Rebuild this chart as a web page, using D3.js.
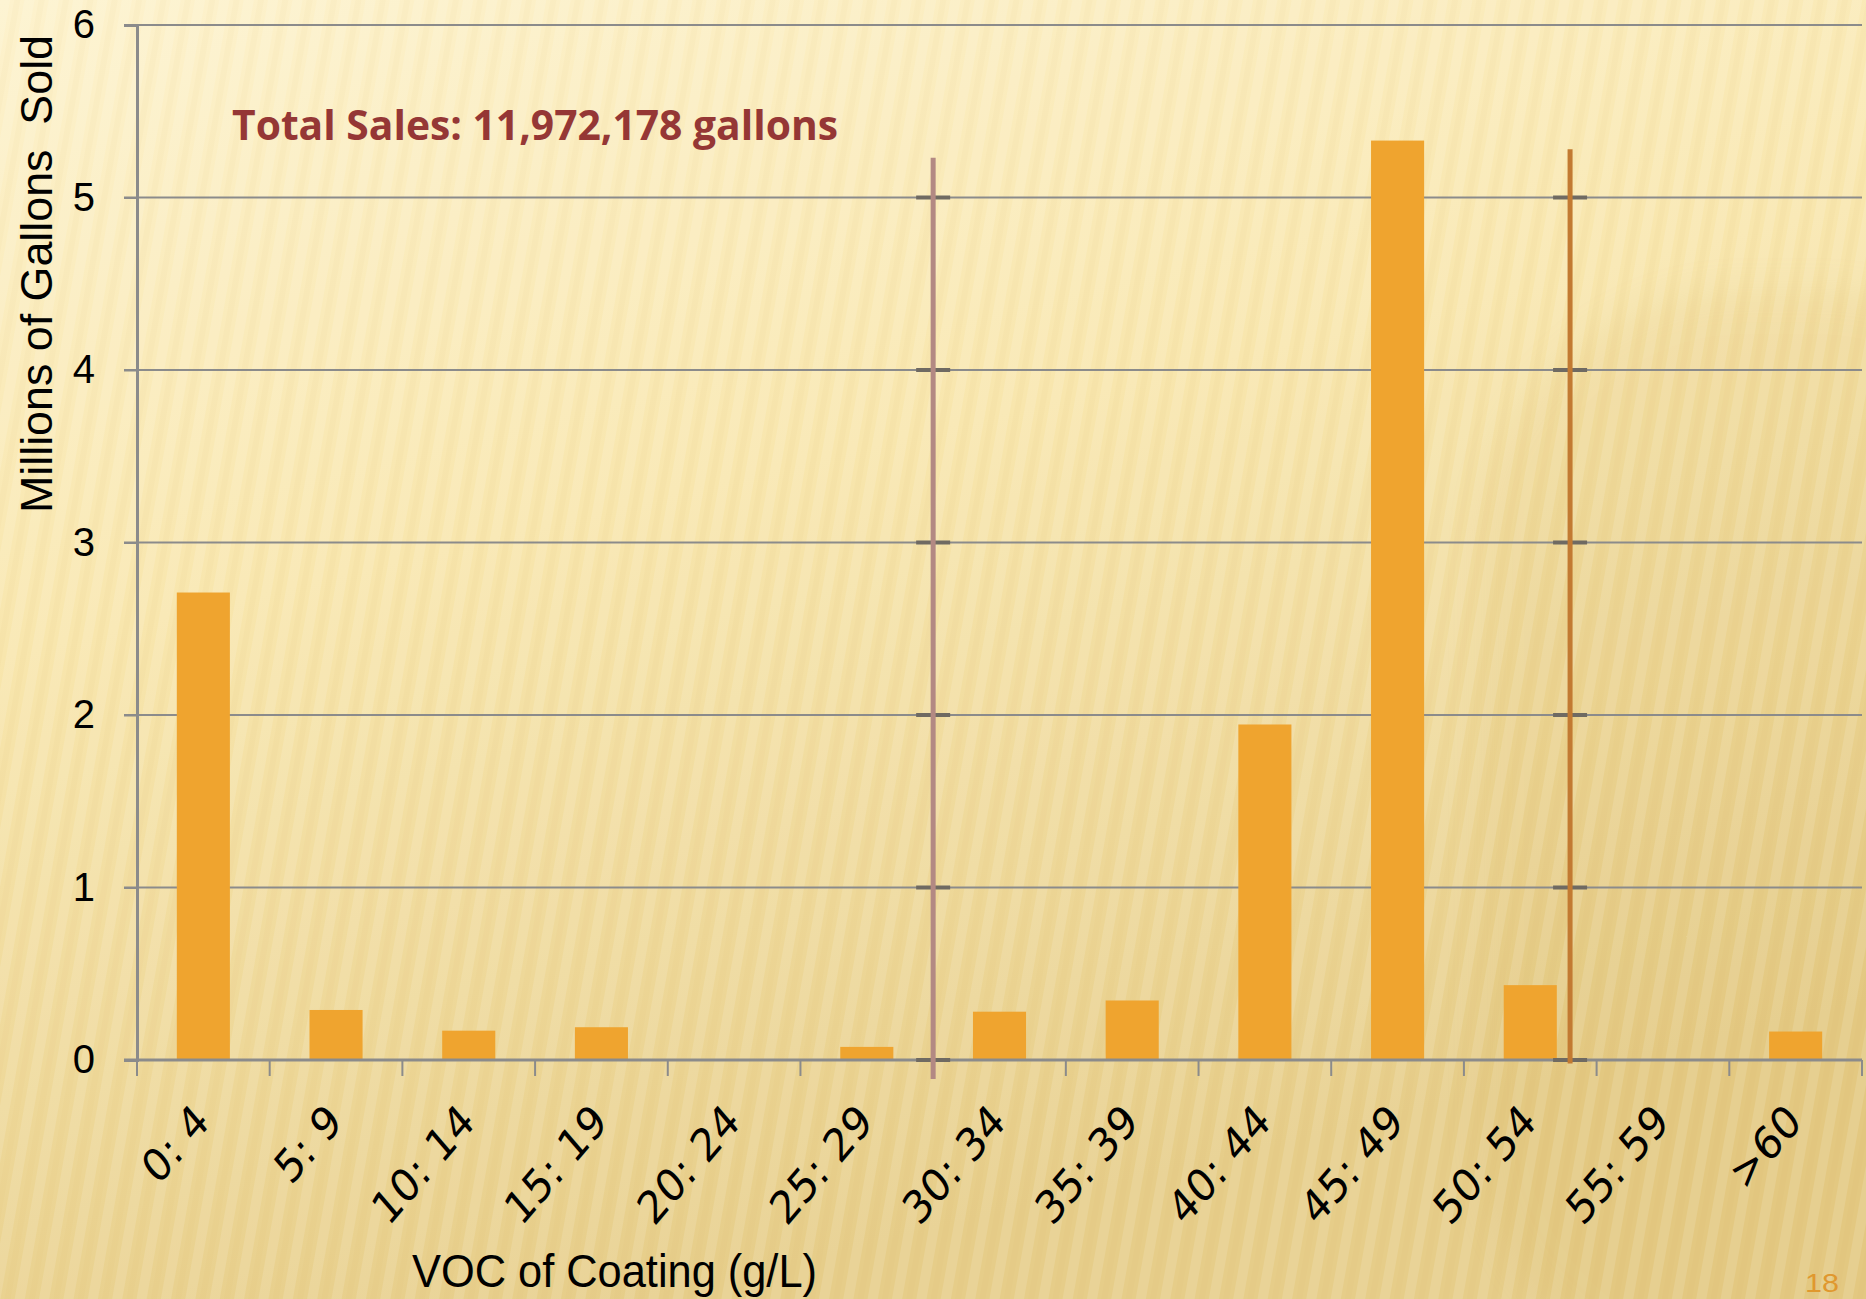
<!DOCTYPE html>
<meta charset="utf-8">
<script src="https://d3js.org/d3.v7.min.js"></script>
<style>
  body { margin: 0; }
  svg { display: block; }
</style>
<body>
<svg width="1866" height="1299"></svg>
<script>
    // chart data
    var categories = ["0: 4", "5: 9", "10: 14", "15: 19", "20: 24", "25: 29", "30: 34",
                      "35: 39", "40: 44", "45: 49", "50: 54", "55: 59", ">60"];
    var sales      = [2.71, 0.29, 0.17, 0.19, 0, 0.076, 0.28, 0.345, 1.945, 5.33, 0.434, 0, 0.165];
    var yTicks     = [0, 1, 2, 3, 4, 5, 6];
    // limit markers, position in category steps, top/bottom in millions of gallons
    var limitPos    = [6, 10.8];
    var limitTop    = [5.23, 5.28];
    var limitBottom = [-0.11, -0.02];
    var limitColor  = ["#b38983", "#c27a32"];

    var W = 1866, H = 1299;
    var mLeft = 137, mRight = 1862, mTop = 25, mBottom = 1060;
    var stretch = 1.17;   // the slide is stretched vertically, so rotated labels look skewed
    var svg = d3.select('svg');
    var defs = svg.append('defs');

    // background
    var bg = defs.append('linearGradient').attr('id', 'bg')
        .attr('x1', 0).attr('y1', 0).attr('x2', 0.35).attr('y2', 1);
    bg.append('stop').attr('offset', 0).attr('stop-color', '#fdf2cd');
    bg.append('stop').attr('offset', 0.45).attr('stop-color', '#f8e6ad');
    bg.append('stop').attr('offset', 1).attr('stop-color', '#e6cd89');

    var stripes = defs.append('pattern').attr('id', 'stripes')
        .attr('patternUnits', 'userSpaceOnUse').attr('width', 24).attr('height', 40)
        .attr('patternTransform', 'rotate(10)');
    stripes.append('rect').attr('width', 10).attr('height', 40).attr('fill', '#ffffff').attr('opacity', 0.12);
    stripes.append('rect').attr('x', 14).attr('width', 6).attr('height', 40).attr('fill', '#c9a24a').attr('opacity', 0.04);

    var blur = defs.append('filter').attr('id', 'blur').attr('x', '-50%').attr('y', '-50%').attr('width', '200%').attr('height', '200%');
    blur.append('feGaussianBlur').attr('stdDeviation', 4);
    var bigBlur = defs.append('filter').attr('id', 'bigblur').attr('x', '-50%').attr('y', '-50%').attr('width', '200%').attr('height', '200%');
    bigBlur.append('feGaussianBlur').attr('stdDeviation', 18);

    svg.append('rect').attr('width', W).attr('height', H).attr('fill', 'url(#bg)');
    svg.append('rect').attr('x', 1480).attr('y', 290).attr('width', 600).attr('height', 1100)
        .attr('rx', 260).attr('fill', '#cfa94e').attr('opacity', 0.12).attr('filter', 'url(#bigblur)');
    svg.append('rect').attr('width', W).attr('height', H).attr('fill', 'url(#stripes)');

    // scales
    var x = d3.scaleBand().domain(categories).range([mLeft, mRight])
        .paddingInner(0.6).paddingOuter(0.3);
    var step = d3.scaleLinear().domain([0, categories.length]).range([mLeft, mRight]);
    var y = d3.scaleLinear().domain([0, 6]).range([mBottom, mTop]);

    // gridlines
    svg.append('g').selectAll('line').data(yTicks.filter(function(d){ return d > 0; }))
        .enter().append('line')
        .attr('x1', mLeft - 13).attr('x2', mRight)
        .attr('y1', function(d){ return y(d); }).attr('y2', function(d){ return y(d); })
        .attr('stroke', '#8b8b8b').attr('stroke-width', 2);

    // y axis
    var yAxis = svg.append('g').attr('transform', 'translate(' + mLeft + ',0)')
        .call(d3.axisLeft(y).tickValues(yTicks).tickFormat(d3.format('d')).tickSize(13).tickPadding(29));
    yAxis.select('.domain').attr('stroke', '#8b8b8b').attr('stroke-width', 3);
    yAxis.selectAll('.tick line').attr('stroke', '#8b8b8b').attr('stroke-width', 2);
    yAxis.selectAll('.tick text').attr('font-family', 'Liberation Sans, Arial, sans-serif')
        .attr('font-size', 40).attr('fill', '#000');

    // bars
    svg.append('g').selectAll('rect').data(sales).enter().append('rect')
        .attr('x', function(d, i){ return x(categories[i]); })
        .attr('width', x.bandwidth())
        .attr('y', function(d){ return y(d); })
        .attr('height', function(d){ return y(0) - y(d); })
        .attr('fill', '#efa42f');

    // x axis
    svg.append('line').attr('x1', mLeft - 13).attr('x2', mRight)
        .attr('y1', mBottom).attr('y2', mBottom)
        .attr('stroke', '#8b8b8b').attr('stroke-width', 3);
    svg.append('g').selectAll('line').data(d3.range(categories.length + 1)).enter().append('line')
        .attr('x1', function(d){ return step(d); }).attr('x2', function(d){ return step(d); })
        .attr('y1', mBottom).attr('y2', mBottom + 16)
        .attr('stroke', '#8b8b8b').attr('stroke-width', 2);
    svg.append('g').selectAll('text').data(categories).enter().append('text')
        .attr('transform', function(d){
            return 'translate(' + (x(d) + x.bandwidth() / 2 + 8) + ',' + (mBottom + 64) + ') scale(1,' + stretch + ') rotate(-45)';
        })
        .attr('text-anchor', 'end')
        .attr('font-family', 'DejaVu Sans, Verdana, sans-serif')
        .attr('font-size', 39)
        .attr('fill', '#000')
        .text(function(d){ return d; });

    // limit lines
    var limits = svg.append('g');
    limitPos.forEach(function(p, i){
        var lx = step(p);
        limits.append('line').attr('x1', lx).attr('x2', lx)
            .attr('y1', y(limitTop[i]) - 4).attr('y2', y(limitBottom[i]) + 10)
            .attr('stroke', '#fff8e4').attr('stroke-width', 22).attr('stroke-linecap', 'round')
            .attr('opacity', 0.7).attr('filter', 'url(#blur)');
        limits.selectAll(null).data(yTicks.filter(function(d){ return d <= limitTop[i]; }))
            .enter().append('line')
            .attr('x1', lx - 17).attr('x2', lx + 17)
            .attr('y1', function(d){ return y(d); }).attr('y2', function(d){ return y(d); })
            .attr('stroke', '#6f6a62').attr('stroke-width', 4);
        limits.append('line').attr('x1', lx).attr('x2', lx)
            .attr('y1', y(limitTop[i])).attr('y2', y(limitBottom[i]))
            .attr('stroke', limitColor[i]).attr('stroke-width', 5);
    });

    // titles
    svg.append('text')
        .attr('transform', 'translate(52,274) rotate(-90)')
        .attr('text-anchor', 'middle')
        .attr('font-family', 'Liberation Sans, Arial, sans-serif')
        .attr('font-size', 44)
        .attr('textLength', 478).attr('lengthAdjust', 'spacingAndGlyphs')
        .style('white-space', 'pre')
        .attr('fill', '#000')
        .text('Millions of Gallons  Sold');

    svg.append('text')
        .attr('x', 412).attr('y', 1287)
        .attr('font-family', 'Liberation Sans, Arial, sans-serif')
        .attr('font-size', 46)
        .attr('textLength', 405).attr('lengthAdjust', 'spacingAndGlyphs')
        .attr('fill', '#000')
        .text('VOC of Coating (g/L)');

    svg.append('text')
        .attr('x', 232).attr('y', 140)
        .attr('font-family', 'Open Sans, Liberation Sans, sans-serif')
        .attr('font-weight', 'bold')
        .attr('font-size', 42)
        .attr('textLength', 606).attr('lengthAdjust', 'spacingAndGlyphs')
        .attr('fill', '#953735')
        .text('Total Sales: 11,972,178 gallons');

    svg.append('text')
        .attr('x', 1805).attr('y', 1292)
        .attr('font-family', 'Liberation Sans Narrow, Liberation Sans, sans-serif')
        .attr('font-size', 26)
        .attr('textLength', 34).attr('lengthAdjust', 'spacingAndGlyphs')
        .attr('fill', '#e0982e')
        .text('18');
</script>
</body>
